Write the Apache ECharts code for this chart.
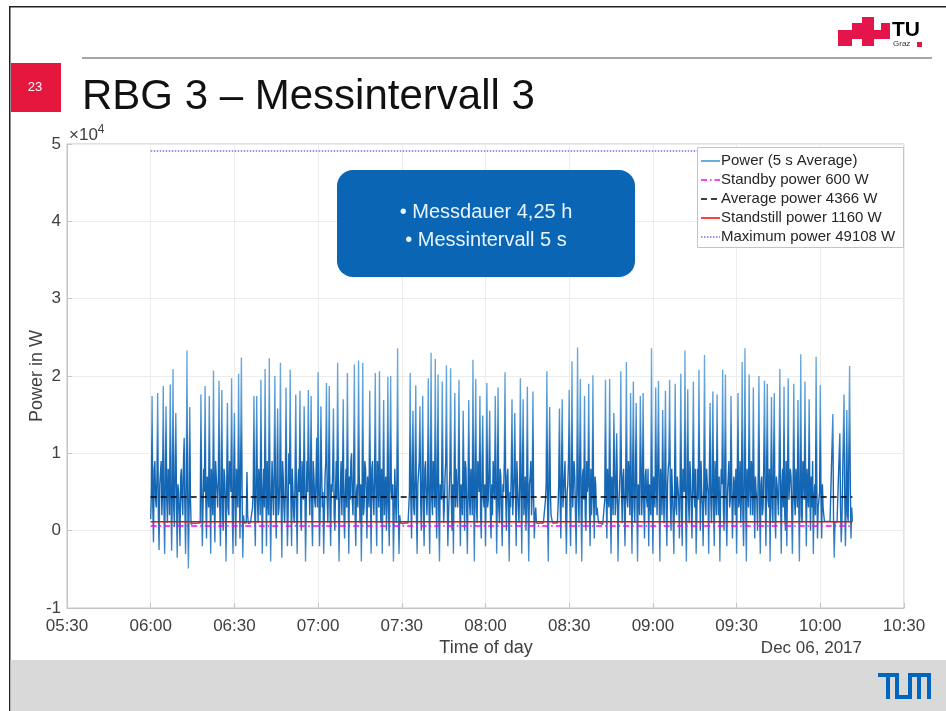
<!DOCTYPE html>
<html>
<head>
<meta charset="utf-8">
<script src="https://cdn.jsdelivr.net/npm/echarts@6/dist/echarts.min.js"></script>
<style>
html,body{margin:0;padding:0;background:#fff;}
#chart{width:946px;height:711px;}
</style>
</head>
<body>
<div id="chart"></div>
<script>
// ---- data ----
const startTime = Date.UTC(2017, 11, 6, 6, 0, 0);
const sampleStepSec = 15;
// power readings (kW), one every 15 s from 06:00 (one row = 10 minutes)
const powerKW = [
 1.5,5, 17.4,3, -1.5,8, 9,4, 3,7, 17.8,2, -2.5,6, 6,9, 2,5, 18.7,3, -3,7, 16.1,4, 1,8, 7,2, 18.9,6, -2.6,5, 20.9,3, 0.5,8, 15.2,4, -3.5,6,
 5,2, -2,7, 8,4, 2,9, 12,3, -3,6, 23.3,5, -4.9,2, 16,4, 0.8,1, 0.9,1, 0.8,1, 0.9,1, 0.8,1, 0.9,1, 1,1, 17.6,6, -2,3, 8,5, 18.7,4,
 -1,7, 6,3, 17.4,5, -3,8, 5,2, 20.7,4, -1.5,9, 9,5, 3,7, 19.4,3, -2,6, 18.2,2, 0,8, 7,4, -4,6, 16.5,3, 2,9, 8,5, 19.7,2, -3,7,
 15.2,4, -2,8, 6,3, 20.3,6, -1,9, 22.4,5, -3.5,2, 1,1, 0.9,1, 7.6,2, 0.9,1, 1,1, 0.8,1, 3,5, 17.4,3, -2,7, 17.4,4, 1,8, 6,2, 19.5,6,
 -3,5, 8,3, 20.9,7, -2,9, 4,2, 22.3,6, -4,4, 9,5, 2,8, 20,3, -1,7, 15.8,2, 3,6, 21.7,4, -3.5,9, 7,3, 1,5, 18.5,7, -2,2, 10,6,
 20.8,4, -2,8, 5,2, 1,7, 17.6,3, -3,6, 8,5, 18.1,2, 0,9, 6,4, 16.1,7, -4,3, 9,5, 18.2,8, 2,6, 17.4,2, -2,9, 7,4, 3,7, 12,3,
 20.5,6, -2,3, 16.1,8, 3,5, -3,2, 7,9, 19.1,4, 1,7, 18.7,3, -2,6, 5,8, 15.8,2, 0,5, 9,4, 21.7,7, -4,3, 6,9, 2,6, 17.0,2, -1,5,
 8,3, 20.4,6, -3,7, 4,9, 10,4, 2,8, 21.5,2, -2,5, 6,3, 22.0,7, 1,6, -4,4, 21.7,2, 3,9, 8,5, -1,7, 5,3, 18.1,6, -3,8, 9,4,
 2,7, 20.4,4, -2,9, 7,3, 20.6,5, 1,8, -3,6, 16.9,2, 5,7, 0,4, 19.9,3, -2,8, 20.0,5, 4,6, -4,2, 8,4, 1,7, 23.6,3, -3,2, 1,1,
 1,1, 0.9,1, 1,1, 0.8,1, 1,1, 3,5, 20.4,4, -1,8, 15.5,3, 2,7, 18.8,2, -3,6, 6,9, 16.1,4, 0,7, 17.4,3, -2,8, 9,5, 2,6, 19.7,3,
 -3,7, 23.0,4, 2,9, 8,3, 22.2,5, -1,8, 20.2,2, -4,6, 6,4, 19.3,7, 1,3, 7,9, 21.4,5, -2,2, 5,8, 21.0,4, 0,6, -3,7, 17.8,3, 8,5,
 3,8, 19.5,4, -2,6, 5,2, 15.5,7, 0,9, 8,3, -3,5, 16.9,4, 2,8, 6,2, 22.1,6, -4,7, 19.6,3, 1,9, 9,5, 17.4,2, -1,8, 14.9,4, 3,6,
 -2,5, 19.1,3, 4,8, 15.5,2, -1,6, 2,9, 6,4, 17.4,7, -3,5, 18.5,3, 1,8, 7,2, -2,6, 5,9, 20.5,4, 0,7, 8,3, -4,5, 3,8, 17.0,2,
 2,7, 15.2,4, -2,9, 6,3, 1,6, 19.7,5, -3,8, 17.0,2, 4,7, 0,4, 18.6,3, -4,6, 7,9, 2,5, 18.0,4, -1,2, 3,1, 1,1, 0.9,1, 1,1,
 0.9,1, 1,1, 1,1, 4,6, 20.6,3, -4,7, 16.0,5, 2,2, 1,1, 0.9,1, 1,1, 1,1, 3,6, 15.8,4, -1,8, 17.0,3, 5,7, 9,2, -3,5, 6,9,
 18.2,4, -2,7, 21.9,3, 3,9, 7,2, -3,6, 23.7,5, 1,8, 19.6,3, -4,7, 8,4, 17.4,2, 0,9, 5,6, 19.0,3, -2,8, 2,5, 20.1,4, -1,7, 6,2,
 3,2, 1,1, 0.9,1, 1,1, 0.8,1, 1,4, 19.5,6, -1,8, 4,3, 19.6,5, -3,7, 6,2, 15.2,9, 2,4, 12.6,6, -4,3, 5,8, 20.6,5, 1,7, 8,3,
 -2,6, 21.8,4, 3,9, 7,2, 17.8,5, -3,8, 19.3,3, 1,7, 16.5,4, -4,6, 5,2, 17.4,9, 2,5, 17.8,3, -1,7, 8,4, 3,8, -2,6, 6,2, 23.6,5,
 -3,7, 5,3, 18.5,6, 2,9, 19.4,4, -4,8, 6,2, 15.6,5, 1,7, 18.1,3, -2,6, 8,9, 19.5,4, 0,8, 5,2, -3,5, 19.0,3, 2,7, 7,4, -1,6,
 20.3,3, -2,8, 6,5, 23.3,2, -4,7, 18.3,4, 1,9, 7,3, -1,6, 19.3,5, 3,8, -3,2, 8,4, 20.8,7, 0,9, 5,3, -2,6, 22.7,4, 2,8, 6,5,
 -3,8, 16.5,4, 1,6, 18.0,3, -2,9, 6,2, 17.6,5, 2,7, -4,4, 8,6, 20.8,3, 0,8, 20.2,2, -2,5, 5,9, 3,4, 17.4,7, -1,3, 7,6, 2,8,
 -3,6, 17.8,3, 4,9, 1,5, 21.8,2, -2,7, 23.6,4, -4,8, 6,3, 20.2,6, 2,9, 8,2, 18.5,5, -1,7, 5,4, 0,8, 20.0,3, -3,6, 7,2, 3,9,
 19.4,5, -2,7, 19.0,4, 3,8, -4,6, 17.3,3, 1,9, 17.8,2, -1,7, 6,4, 2,8, 20.9,5, -3,6, 8,3, 18.6,2, 0,9, -2,7, 19.7,4, 4,8, 7,3,
 -3,6, 19.0,4, 2,8, 6,3, 16.9,5, -4,7, 22.8,2, 1,9, 8,4, 19.3,6, -2,8, 5,3, 17.0,5, 0,7, 3,9, -3,4, 6,2, 22.5,6, -1,3, 4,5,
 18.8,4, -1,6, 3,2, 1.2,1.2, 1.1,1.1, 1.2,1.2, 1.1,1.1, 1.2,1.2, 1.1,1.1, 15.1,1.2, -3.5,1.1, 1.2,1.2, 1.1,1.1, 1.2,1.2, 12.6,3, -1.5,1.2, 1.2,1.1, 17.6,5, -2,3, 15.6,2,
 1.2,1.1, 21.3,6, -1,3, 1.2
];
const standbyPower = 600;
const averagePower = 4366;
const standstillPower = 1160;
const maximumPower = 49108;
const legendNames = ['Power (5 s Average)', 'Standby power 600 W', 'Average power 4366 W', 'Standstill power 1160 W', 'Maximum power 49108 W'];
const yTicks = [-1, 0, 1, 2, 3, 4, 5];   // x 10^4 W
const xMin = Date.UTC(2017, 11, 6, 5, 30, 0);
const xMax = Date.UTC(2017, 11, 6, 10, 30, 0);
const xInterval = 30 * 60 * 1000;

// ---- build ----
const powerData = powerKW.map((v, i) => [startTime + i * sampleStepSec * 1000, v * 1000]);
const tEnd = powerData[powerData.length - 1][0];
const flat = v => [[startTime, v], [tEnd, v]];
const pad = n => (n < 10 ? '0' : '') + n;

const FONT = '"Liberation Sans", Arial, sans-serif';
const styles = [
  {color: '#3d8fcc', width: 1.2},
  {color: '#ff00ff', width: 1.5, type: [6, 3, 1.5, 3]},
  {color: '#000000', width: 1.5, type: [6, 4]},
  {color: '#ff0000', width: 1.5},
  {color: '#7a70e6', width: 1.5, type: [1.5, 1.5]}
];

const chart = echarts.init(document.getElementById('chart'), null, {renderer: 'canvas'});

// custom legend (box + line samples + labels)
const legendGraphics = [
  {type: 'rect', shape: {x: 697.5, y: 147.5, width: 206, height: 100}, style: {fill: '#ffffff', stroke: '#c4c4c4', lineWidth: 1}, z: 50, silent: true}
];
legendNames.forEach((name, i) => {
  const y = 161 + i * 19;
  const s = styles[i];
  legendGraphics.push({type: 'line', shape: {x1: 701, y1: y, x2: 720, y2: y}, z: 51, silent: true,
    style: {stroke: s.color, lineWidth: 1.5, lineDash: s.type || null}});
  legendGraphics.push({type: 'text', x: 721, y: y, z: 51, silent: true,
    style: {text: name, fill: '#262626', fontSize: 15, fontFamily: FONT, align: 'left', verticalAlign: 'middle'}});
});

const blue = '#0065bd';
const option = {
  animation: false,
  backgroundColor: '#ffffff',
  grid: {left: 67, right: 42, top: 144, bottom: 103, show: true, borderColor: '#c4c4c4', borderWidth: 1, backgroundColor: 'transparent'},
  xAxis: {
    type: 'value', min: xMin, max: xMax, interval: xInterval,
    axisLine: {show: true, onZero: false, lineStyle: {color: '#c4c4c4'}},
    axisTick: {show: true, inside: true, length: 5, lineStyle: {color: '#c4c4c4'}},
    splitLine: {show: true, lineStyle: {color: '#ececec'}},
    axisLabel: {color: '#404040', fontSize: 17, fontFamily: FONT, margin: 10,
      formatter: v => { const d = new Date(v); return pad(d.getUTCHours()) + ':' + pad(d.getUTCMinutes()); }}
  },
  yAxis: {
    type: 'value', min: yTicks[0] * 10000, max: yTicks[yTicks.length - 1] * 10000, interval: 10000,
    axisLine: {show: true, onZero: false, lineStyle: {color: '#c4c4c4'}},
    axisTick: {show: true, inside: true, length: 5, lineStyle: {color: '#c4c4c4'}},
    splitLine: {show: true, lineStyle: {color: '#ececec'}},
    axisLabel: {color: '#404040', fontSize: 17, fontFamily: FONT, margin: 6, formatter: v => String(v / 10000)}
  },
  visualMap: {
    show: false, type: 'continuous', seriesIndex: 0, dimension: 1, min: -5000, max: 24000,
    inRange: {color: ['#5f9fd6', '#2a76bd', '#1265b3', '#1a6ab6', '#4a92cf', '#64a5da', '#70acdd']}
  },
  series: [
    {name: legendNames[0], type: 'line', data: powerData, showSymbol: false, symbol: 'none', sampling: null,
      lineStyle: {width: 1.4}, z: 2},
    {name: legendNames[1], type: 'line', data: flat(standbyPower), symbol: 'none', lineStyle: styles[1], itemStyle: {color: styles[1].color}, z: 3},
    {name: legendNames[2], type: 'line', data: flat(averagePower), symbol: 'none', lineStyle: styles[2], itemStyle: {color: styles[2].color}, z: 3},
    {name: legendNames[3], type: 'line', data: flat(standstillPower), symbol: 'none', lineStyle: styles[3], itemStyle: {color: styles[3].color}, z: 3},
    {name: legendNames[4], type: 'line', data: flat(maximumPower), symbol: 'none', lineStyle: styles[4], itemStyle: {color: styles[4].color}, z: 3}
  ],
  graphic: legendGraphics.concat([
    // slide frame
    {type: 'rect', shape: {x: 9, y: 6, width: 1.5, height: 705}, style: {fill: '#222'}, z: 100, silent: true},
    {type: 'rect', shape: {x: 9, y: 6, width: 937, height: 1.5}, style: {fill: '#222'}, z: 100, silent: true},
    // separator
    {type: 'rect', shape: {x: 82, y: 57, width: 850, height: 2}, style: {fill: '#a6a6a6'}, z: 100, silent: true},
    // page number
    {type: 'rect', shape: {x: 11, y: 63, width: 50, height: 49}, style: {fill: '#e5173f'}, z: 100, silent: true},
    {type: 'text', x: 35, y: 87, style: {text: '23', fill: '#fff', fontSize: 13, fontFamily: FONT, align: 'center', verticalAlign: 'middle'}, z: 101, silent: true},
    // title
    {type: 'text', x: 82, y: 97, style: {text: 'RBG 3 – Messintervall 3', fill: '#111', fontSize: 42, fontFamily: FONT, align: 'left', verticalAlign: 'middle'}, z: 100, silent: true},
    // TU Graz logo
    {type: 'rect', z: 100, silent: true, shape: {x: 838, y: 30, width: 14, height: 16}, style: {fill: '#e4154b'}},
    {type: 'rect', z: 100, silent: true, shape: {x: 852, y: 23, width: 10, height: 16}, style: {fill: '#e4154b'}},
    {type: 'rect', z: 100, silent: true, shape: {x: 862, y: 17, width: 12, height: 29}, style: {fill: '#e4154b'}},
    {type: 'rect', z: 100, silent: true, shape: {x: 874, y: 30, width: 7, height: 9}, style: {fill: '#e4154b'}},
    {type: 'rect', z: 100, silent: true, shape: {x: 881, y: 23, width: 9, height: 16}, style: {fill: '#e4154b'}},
    {type: 'text', z: 100, silent: true, x: 892, y: 20, style: {text: 'TU', fill: '#000', fontSize: 21, fontWeight: 'bold', fontFamily: FONT}},
    {type: 'text', z: 100, silent: true, x: 893, y: 40, style: {text: 'Graz', fill: '#333', fontSize: 8, fontFamily: FONT}},
    {type: 'rect', z: 100, silent: true, shape: {x: 917, y: 42, width: 5, height: 5}, style: {fill: '#e4154b'}},
    // multiplier
    {type: 'text', x: 69, y: 124, z: 100, silent: true, style: {
      text: '×10{s|4}', fill: '#404040', fontSize: 17, fontFamily: FONT,
      rich: {s: {fontSize: 12, verticalAlign: 'top', padding: [0, 0, 10, 0], fill: '#404040', fontFamily: FONT}}}},
    // axis titles
    {type: 'text', x: 486, y: 648, z: 100, silent: true, style: {text: 'Time of day', fill: '#404040', fontSize: 18, fontFamily: FONT, align: 'center', verticalAlign: 'middle'}},
    {type: 'text', x: 862, y: 648, z: 100, silent: true, style: {text: 'Dec 06, 2017', fill: '#404040', fontSize: 17, fontFamily: FONT, align: 'right', verticalAlign: 'middle'}},
    {type: 'text', x: 37, y: 376, rotation: Math.PI / 2, z: 100, silent: true, style: {text: 'Power in W', fill: '#404040', fontSize: 18, fontFamily: FONT, align: 'center', verticalAlign: 'middle'}},
    // info box
    {type: 'rect', shape: {x: 337, y: 170, width: 298, height: 107, r: 16}, style: {fill: '#0a65b5'}, z: 100, silent: true},
    {type: 'text', x: 486, y: 212, z: 101, silent: true, style: {text: '• Messdauer 4,25 h', fill: '#e8f4ff', fontSize: 20, fontFamily: FONT, align: 'center', verticalAlign: 'middle'}},
    {type: 'text', x: 486, y: 240, z: 101, silent: true, style: {text: '• Messintervall 5 s', fill: '#e8f4ff', fontSize: 20, fontFamily: FONT, align: 'center', verticalAlign: 'middle'}},
    // footer band
    {type: 'rect', shape: {x: 10.5, y: 660, width: 936, height: 51}, style: {fill: '#d9d9d9'}, z: 100, silent: true},
    // TUM logo
    {type: 'rect', z: 101, silent: true, shape: {x: 878, y: 673, width: 21, height: 4}, style: {fill: blue}},
    {type: 'rect', z: 101, silent: true, shape: {x: 886, y: 673, width: 4, height: 26}, style: {fill: blue}},
    {type: 'rect', z: 101, silent: true, shape: {x: 895, y: 673, width: 4, height: 26}, style: {fill: blue}},
    {type: 'rect', z: 101, silent: true, shape: {x: 895, y: 695, width: 17, height: 4}, style: {fill: blue}},
    {type: 'rect', z: 101, silent: true, shape: {x: 908, y: 673, width: 4, height: 26}, style: {fill: blue}},
    {type: 'rect', z: 101, silent: true, shape: {x: 908, y: 673, width: 23, height: 4}, style: {fill: blue}},
    {type: 'rect', z: 101, silent: true, shape: {x: 917, y: 673, width: 4, height: 26}, style: {fill: blue}},
    {type: 'rect', z: 101, silent: true, shape: {x: 927, y: 673, width: 4, height: 26}, style: {fill: blue}}
  ])
};
chart.setOption(option);
</script>
</body>
</html>
